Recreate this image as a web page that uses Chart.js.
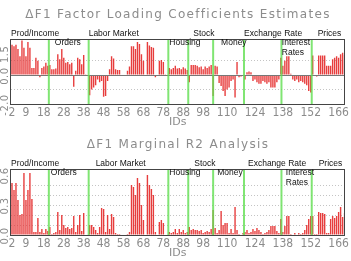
<!DOCTYPE html>
<html><head><meta charset="utf-8">
<script src="https://cdn.jsdelivr.net/npm/chart.js@4"></script>
<style>html,body{margin:0;padding:0;background:#fff;overflow:hidden}</style>
</head><body>
<div style="width:351px;height:130px;position:relative"><canvas id="c1"></canvas></div>
<div style="width:351px;height:131px;position:relative"><canvas id="c2"></canvas></div>
<script>
// Series IDs 2..169
const ids = [];
for (let id = 2; id <= 169; id++) ids.push(id);

const xTickIds = [2, 9, 18, 28, 38, 48, 58, 68, 78, 88, 98, 110, 124, 138, 152, 166];

// Group boundaries (between IDs)
const groupBounds = [20.5, 40.5, 80.5, 90.5, 103, 118.5, 137.3, 152.5];

// ΔF1 factor loading coefficients (ids 2..169)
const loadings = [
  2.1, 2.0, 2.1, 1.8, 1.3, 2.4, 1.9, 1.3, 2.3, 1.9,
  0.5, 0.5, 1.2, 1.0, -0.15, 0.5, 0.6, 0.85, 0.65, 0.7,
  0.4, 0.4, 0.45, 1.45, 1.1, 1.8, 1.2, 0.85, 0.9, 0.75,
  0.85, -0.8, 0.3, 1.2, 1.1, 0.75, 1.4, 0.02, -0.05, -1.4,
  -1.0, -0.85, -0.7, -0.3, -0.5, -0.4, -1.5, -1.45, -0.4, 0.4,
  1.3, 1.15, 0.4, 0.35, 0.35, 0.05, 0.05, 0.05, 0.3, 0.6,
  2.0, 2.0, 1.8, 2.3, 2.15, 1.45, 1.0, 0.05, 2.3, 2.05,
  1.95, 1.9, -0.15, 0.05, 1.0, 1.05, 0.9, 0.02, -0.02, 0.5,
  0.4, 0.5, 0.65, 0.45, 0.5, 0.4, 0.55, 0.45, 0.35, -0.5,
  0.7, 0.7, 0.7, 0.65, 0.55, 0.6, 0.4, 0.6, 0.5, 0.6,
  0.7, -1.45, 0.65, 0.6, -0.55, -0.75, -1.1, -1.45, -1.0, -0.85,
  -0.4, -0.3, -1.55, 0.9, -0.15, -0.1, -0.05, -0.3, 0.2, 0.25,
  0.2, -0.4, -0.3, -0.5, -0.6, -0.6, -0.4, -0.5, -0.6, -0.5,
  -0.85, -0.85, -0.85, -0.5, -0.3, 1.2, 0.65, 1.0, 1.3, 1.3,
  0.1, -0.3, -0.4, -0.3, -0.5, -0.4, -0.5, -0.6, -0.7, -1.1,
  -1.2, 1.35, 0.05, -0.1, 1.35, 1.35, 1.35, 1.35, 0.65, 0.65,
  0.65, 1.1, 1.2, 1.3, 1.2, 1.45, 1.55, 1.4
];

// ΔF1 marginal R2 (ids 2..169)
const marginalR2 = [
  0.52, 0.45, 0.52, 0.35, 0.2, 0.21, 0.62, 0.35, 0.45, 0.62,
  0.36, 0.03, 0.03, 0.17, 0.03, 0.06, 0.02, 0.06, 0.04, 0.08,
  0.01, 0.02, 0.03, 0.23, 0.05, 0.2, 0.1, 0.07, 0.08, 0.06,
  0.07, 0.19, 0.03, 0.1, 0.2, 0.04, 0.22, 0.0, 0.0, 0.1,
  0.1, 0.08, 0.05, 0.02, 0.08, 0.27, 0.26, 0.03, 0.2, 0.06,
  0.21, 0.18, 0.02, 0.01, 0.01, 0.0, 0.0, 0.0, 0.01, 0.03,
  0.5, 0.48, 0.4, 0.57, 0.52, 0.3, 0.15, 0.0, 0.6, 0.5,
  0.46, 0.4, 0.03, 0.0, 0.13, 0.15, 0.12, 0.0, 0.0, 0.03,
  0.02, 0.03, 0.06, 0.02, 0.06, 0.03, 0.05, 0.02, 0.03, 0.08,
  0.05, 0.06, 0.05, 0.05, 0.04, 0.05, 0.02, 0.03, 0.04, 0.03,
  0.06, 0.25, 0.07, 0.02, 0.05, 0.24, 0.1, 0.12, 0.12, 0.02,
  0.06, 0.02, 0.28, 0.05, 0.01, 0.0, 0.02, 0.03, 0.05, 0.02,
  0.03, 0.06, 0.04, 0.07, 0.05, 0.03, 0.01, 0.02, 0.03, 0.05,
  0.09, 0.09, 0.09, 0.04, 0.02, 0.16, 0.03, 0.09, 0.19, 0.19,
  0.01, 0.0, 0.02, 0.0, 0.02, 0.01, 0.02, 0.05, 0.1, 0.16,
  0.19, 0.19, 0.01, 0.01, 0.23, 0.22, 0.22, 0.21, 0.02, 0.02,
  0.16, 0.19, 0.17, 0.19, 0.23, 0.28, 0.18, 0.22
];

const groupNames = ["Prod/Income", "Orders", "Labor Market", "Housing", "Stock", "Money", "Exchange Rate", ["Interest", "Rates"], "Prices"];
// anchor ids for labels, and row (0 = above plot, 1 = inside plot)
const labelIdsTop = [1.5, 23.5, 40.5, 81, 93, 107, 118.5, 137.5, 155.5];
const labelIdsBot = [1.5, 21.5, 44, 81, 93.5, 105, 120.5, 139.5, 156];
const labelRows = [0, 1, 0, 1, 0, 1, 0, 1, 0];

const yTicksTop = [-2.0, 0.0, 1.5];
const yTicksBot = [0.0, 0.3, 0.6];

const GRAY = '#8c8c8c';
const TICKFONT = '"Liberation Sans Narrow", "DejaVu Sans Condensed", "Liberation Sans", sans-serif';

function makePlugin(title, yTicks, labelIds, drawZero) {
  return {
    id: 'deco',
    afterDatasetsDraw(chart) {
      const ctx = chart.ctx, a = chart.chartArea, xs = chart.scales.x, ys = chart.scales.y;
      ctx.save();
      if (drawZero) {
        const y0 = Math.round(ys.getPixelForValue(0)) + 0.5;
        ctx.strokeStyle = '#777'; ctx.lineWidth = 1;
        ctx.beginPath(); ctx.moveTo(a.left, y0); ctx.lineTo(a.right, y0); ctx.stroke();
      }
      ctx.strokeStyle = 'rgba(96,222,80,0.8)'; ctx.lineWidth = 2;
      groupBounds.forEach(b => {
        const x = xs.getPixelForValue(b);
        ctx.beginPath(); ctx.moveTo(x, a.top); ctx.lineTo(x, a.bottom); ctx.stroke();
      });
      ctx.strokeStyle = '#444'; ctx.lineWidth = 1;
      ctx.strokeRect(Math.round(a.left) - 0.5, Math.round(a.top) + 0.5, Math.round(a.right - a.left), Math.round(a.bottom - a.top));
      ctx.restore();
    },
    afterDraw(chart) {
      const ctx = chart.ctx, a = chart.chartArea, xs = chart.scales.x, ys = chart.scales.y;
      ctx.save();
      // title
      ctx.fillStyle = GRAY;
      ctx.font = '12px "DejaVu Sans"';
      ctx.letterSpacing = '1.3px';
      ctx.textAlign = 'center'; ctx.textBaseline = 'middle';
      ctx.fillText(title, 178, 15);
      // rotated y tick labels
      ctx.font = '11px ' + TICKFONT;
      ctx.letterSpacing = '0.5px';
      yTicks.forEach(v => {
        const y = ys.getPixelForValue(v) + 1;
        ctx.save(); ctx.translate(5, y); ctx.rotate(-Math.PI / 2);
        ctx.fillText(v.toFixed(1), 0, 0); ctx.restore();
      });
      // group labels
      ctx.letterSpacing = '0px';
      ctx.fillStyle = '#111';
      ctx.font = '8.5px "Liberation Sans"';
      ctx.textAlign = 'left';
      groupNames.forEach((n, i) => {
        const x = Math.max(a.left, xs.getPixelForValue(labelIds[i]));
        const lines = Array.isArray(n) ? n : [n];
        lines.forEach((t, k) => {
          const y = labelRows[i] === 0 ? a.top - 5.5 : a.top + 3.5 + k * 10.5;
          ctx.fillText(t, x, y);
        });
      });
      ctx.restore();
    }
  };
}

function makeChart(id, values, ymin, ymax, step, title, yTicks, labelIds, drawZero) {
  return new Chart(document.getElementById(id), {
    type: 'bar',
    data: {
      datasets: [{
        data: ids.map((x, i) => ({ x: x, y: values[i] })),
        backgroundColor: 'rgba(228,40,40,0.9)',
        borderWidth: 0,
        barPercentage: 0.7,
        categoryPercentage: 1.0
      }]
    },
    options: {
      responsive: true, maintainAspectRatio: false, animation: false, devicePixelRatio: 1,
      layout: { padding: { left: 11, right: 5, top: 39, bottom: 0 }, autoPadding: false },
      plugins: { legend: { display: false }, title: { display: false }, tooltip: { enabled: false } },
      scales: {
        x: {
          type: 'linear', min: 1.5, max: 169, offset: false,
          grid: { display: false, drawTicks: false }, border: { display: false },
          afterBuildTicks: s => { s.ticks = xTickIds.map(v => ({ value: v })); },
          afterFit: s => { s.height = 26; },
          ticks: { autoSkip: false, maxRotation: 0, minRotation: 0, padding: 2, color: GRAY,
                   font: { family: TICKFONT, size: 12 }, callback: v => String(v) },
          title: { display: true, text: 'IDs', color: GRAY, font: { family: 'DejaVu Sans', size: 11 }, padding: { top: 0, bottom: 1 } }
        },
        y: {
          min: ymin, max: ymax,
          ticks: { display: false, stepSize: step },
          afterFit: s => { s.width = 0; },
          grid: { color: '#c4c4c4', drawTicks: false, lineWidth: 1 },
          border: { display: false, dash: [1, 2] }
        }
      }
    },
    plugins: [makePlugin(title, yTicks, labelIds, drawZero)]
  });
}

makeChart('c1', loadings, -2, 2.5, 1, 'ΔF1 Factor Loading Coefficients Estimates', yTicksTop, labelIdsTop, true);
makeChart('c2', marginalR2, 0, 0.66, 0.1, 'ΔF1 Marginal R2 Analysis', yTicksBot, labelIdsBot, false);
</script>
</body></html>
